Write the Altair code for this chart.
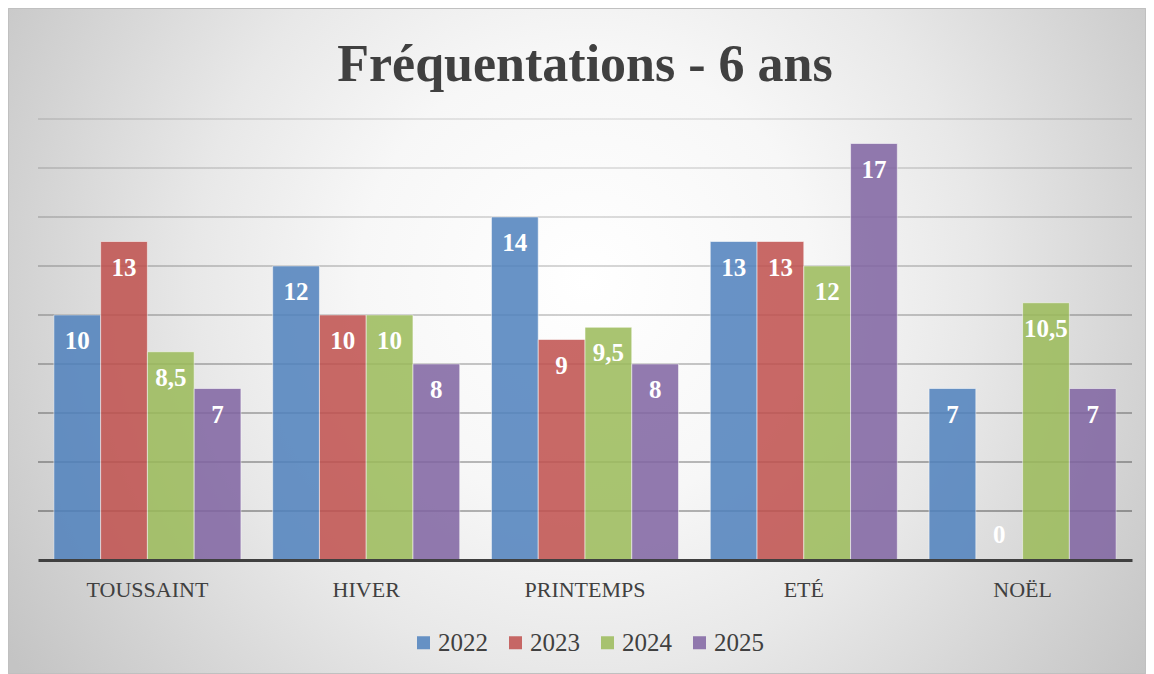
import altair as alt
import pandas as pd

title_text = ["Fréquentations - 6 ans"]
categories = ["TOUSSAINT", "HIVER", "PRINTEMPS", "ETÉ", "NOËL"]
years = ["2022", "2023", "2024", "2025"]
values_2022 = [10, 12, 14, 13, 7]
values_2023 = [13, 10, 9, 13, 0]
values_2024 = [8.5, 10, 9.5, 12, 10.5]
values_2025 = [7, 8, 8, 17, 7]
grid_values = [2, 4, 6, 8, 10, 12, 14, 16, 18]
colors = ["#4F81BD", "#C0504D", "#9BBB59", "#8064A2"]

W, H = 1094, 441
PAD = {"left": 30, "top": 111, "right": 14, "bottom": 114}
EXT = 240
FONT = "Liberation Serif"
TXT = "#404040"

rows = []
for yr, vals in zip(years, [values_2022, values_2023, values_2024, values_2025]):
    for c, v in zip(categories, vals):
        rows.append({"cat": c, "year": yr, "value": v,
                     "label": f"{v:g}".replace(".", ",")})
df = pd.DataFrame(rows)

yscale = alt.Scale(domain=[0, 18], nice=False, zero=True)

bg = alt.Chart(pd.DataFrame({"k": [0]})).mark_rect(
    fill={
        "gradient": "radial",
        "x1": 0.508, "y1": 0.447, "r1": 0,
        "x2": 0.508, "y2": 0.447, "r2": 0.6,
        "stops": [
            {"offset": 0, "color": "#ffffff"},
            {"offset": 0.33, "color": "#f7f7f7"},
            {"offset": 0.57, "color": "#e8e8e8"},
            {"offset": 0.83, "color": "#d2d2d2"},
            {"offset": 1, "color": "#c4c4c4"},
        ],
    }
).encode(
    x=alt.value(-PAD["left"]),
    x2=alt.value(W + PAD["right"]),
    y=alt.value(-PAD["top"] - EXT),
    y2=alt.value(H + PAD["bottom"] + EXT),
)

border = alt.Chart(pd.DataFrame({"k": [0]})).mark_rect(
    fillOpacity=0, stroke="#c0c0c0", strokeWidth=1
).encode(
    x=alt.value(-PAD["left"] + 0.5),
    x2=alt.value(W + PAD["right"] - 0.5),
    y=alt.value(-PAD["top"] + 0.5),
    y2=alt.value(H + PAD["bottom"] - 0.5),
)

title = alt.Chart(pd.DataFrame({"t": title_text})).mark_text(
    font=FONT, fontSize=52, fontWeight="bold", color=TXT,
    baseline="alphabetic", align="center",
).encode(x=alt.value(W / 2), y=alt.value(-38), text="t:N")

grid = alt.Chart(pd.DataFrame({"g": grid_values})).mark_tick(
    orient="horizontal", size=W, thickness=1.5,
    color={
        "gradient": "linear", "x1": 0, "y1": 0, "x2": 1, "y2": 0,
        "stops": [
            {"offset": 0, "color": "#7a7a7a"},
            {"offset": 0.5, "color": "#a0a0a0"},
            {"offset": 1, "color": "#7a7a7a"},
        ],
    },
).encode(
    y=alt.Y("g:Q", scale=yscale, axis=None),
    opacity=alt.Opacity("g:Q", scale=alt.Scale(domain=[2, 18], range=[1, 0.3]), legend=None),
)

base = alt.Chart(df).encode(
    x=alt.X(
        "cat:N", sort=categories,
        scale=alt.Scale(paddingInner=0.145, paddingOuter=0.0725),
        axis=alt.Axis(
            title=None, labelAngle=0, labelFont=FONT, labelFontSize=22,
            labelColor=TXT, labelPadding=36, labelBaseline="alphabetic",
            ticks=False, tickSize=0, domainColor=TXT, domainWidth=3,
            grid=False, zindex=1,
        ),
    ),
    xOffset=alt.XOffset("year:N", sort=years,
                        scale=alt.Scale(paddingInner=0, paddingOuter=0)),
    y=alt.Y("value:Q", scale=yscale, axis=None),
)

bars = base.mark_bar(
    opacity=0.85, stroke="white", strokeOpacity=0.55, strokeWidth=1
).encode(
    color=alt.Color(
        "year:N", sort=years,
        scale=alt.Scale(domain=years, range=colors),
        legend=alt.Legend(
            orient="none", legendX=373, legendY=511, direction="horizontal",
            title=None, symbolType="square", symbolSize=169,
            symbolOpacity=0.85, symbolStrokeWidth=0,
            labelFont=FONT, labelFontSize=25, labelColor=TXT,
            labelOffset=2, columnPadding=15, padding=0,
        ),
    )
)

text_style = dict(font=FONT, fontWeight="bold", fontSize=25, color="white",
                  baseline="alphabetic", align="center")

labels = base.transform_filter("datum.value > 0").mark_text(
    dy=34, **text_style
).encode(text="label:N")

zero_labels = base.transform_filter("datum.value == 0").mark_text(
    dy=-17, **text_style
).encode(text="label:N")

chart = alt.layer(bg, grid, bars, labels, zero_labels, title, border).properties(
    width=W, height=H, padding=PAD,
    autosize=alt.AutoSizeParams(type="none"),
).configure_view(stroke=None).configure_legend(
    labelFont=FONT
).configure(background="white", font=FONT)

chart.save("out.html", embed_options={"renderer": "svg", "actions": False})
